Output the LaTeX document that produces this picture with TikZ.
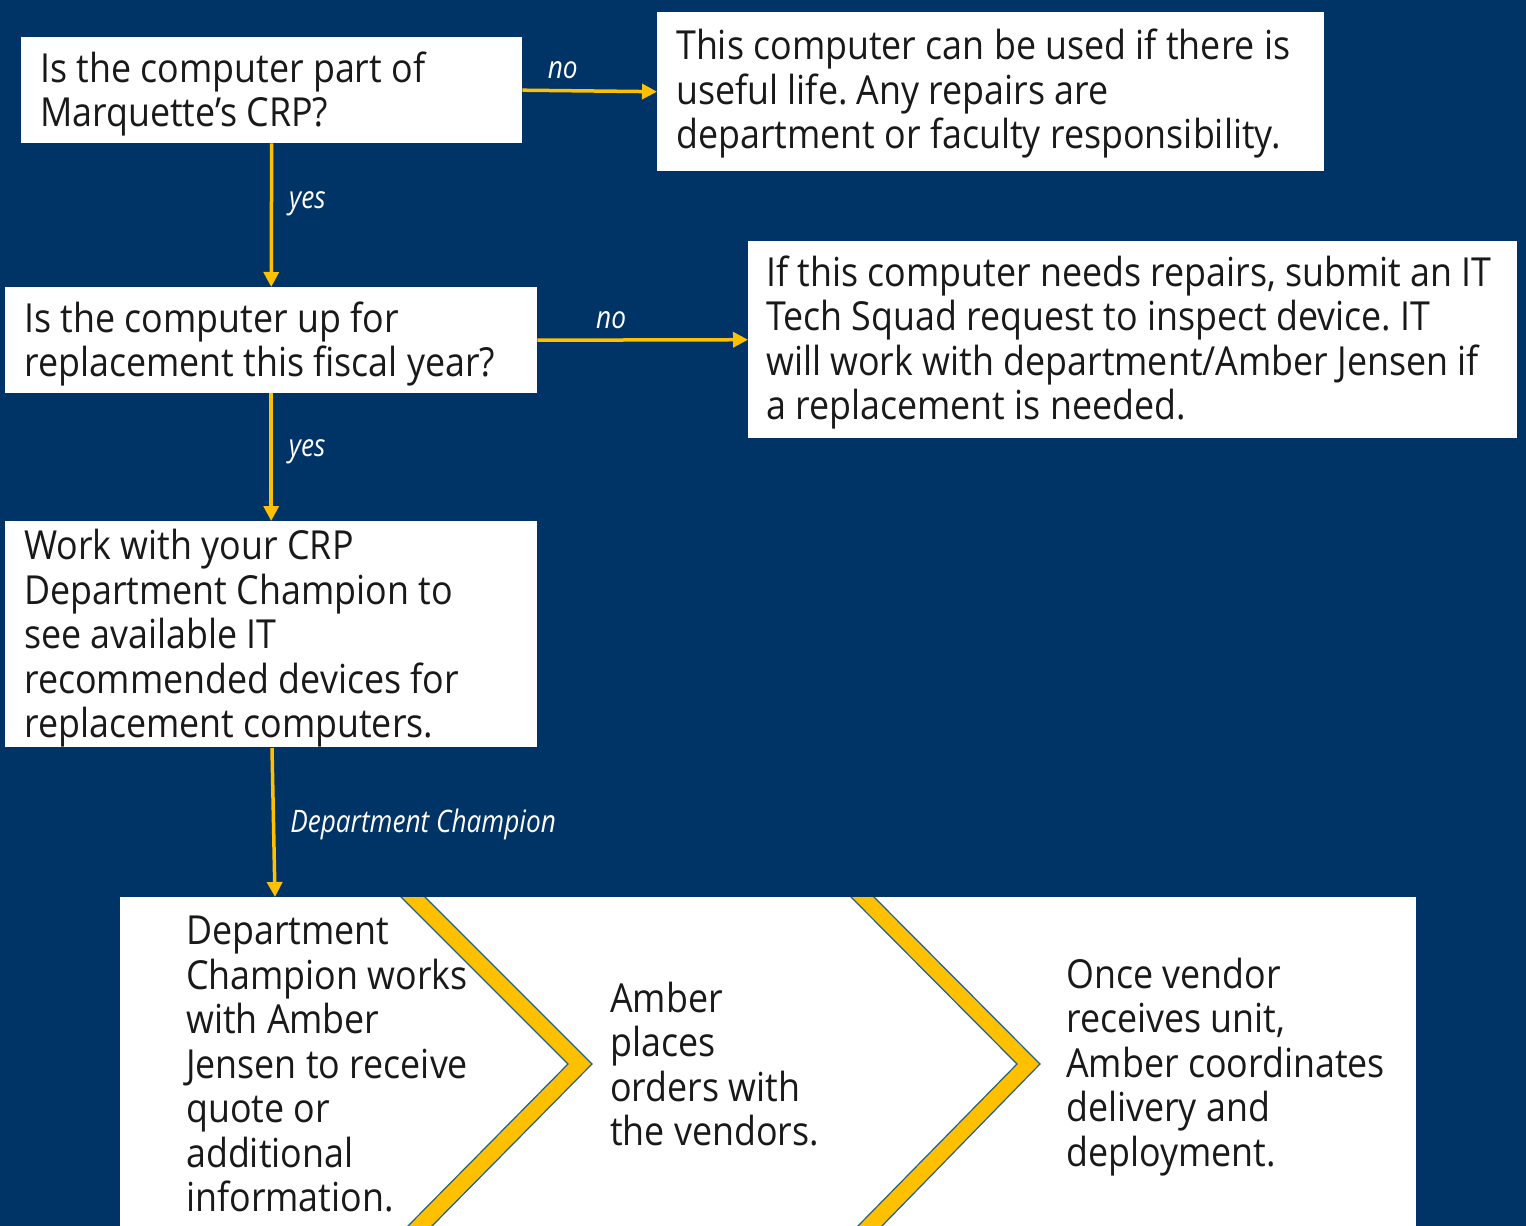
\documentclass[tikz,border=0pt]{standalone}
\usepackage{fontspec}
\setmainfont{Open Sans}[FakeStretch=0.895]
\newfontfamily\lblfont{Open Sans}[FakeStretch=0.845]
\usetikzlibrary{arrows.meta}
\definecolor{bgblue}{HTML}{003366}
\definecolor{gold}{HTML}{FFC000}
\definecolor{edgeblue}{HTML}{1F5F8C}
\tikzset{
  box/.style={fill=white, draw=none, anchor=north west, inner sep=0pt},
  plain/.style={anchor=west, inner sep=0pt, align=left, font=\fontsize{40}{44.5}\selectfont, text=black!90},
  arr/.style={draw=gold, line width=3.5pt, -{Triangle[length=15pt,width=15pt]}},
  lbl/.style={text=white, inner sep=0pt, font=\lblfont\fontsize{31}{36}\selectfont\itshape},
}
\frenchspacing
\begin{document}
\begin{tikzpicture}[x=1pt,y=-1pt]
\useasboundingbox (0,0) rectangle (1526,1226);
\fill[bgblue] (0,0) rectangle (1526,1226);
% boxes
\node[box, minimum width=501pt, minimum height=106pt] (b1) at (21,37) {};
\node[box, minimum width=667pt, minimum height=159pt] (b2) at (657,12) {};
\node[box, minimum width=532pt, minimum height=106pt] (b3) at (5,287) {};
\node[box, minimum width=769pt, minimum height=197pt] (b4) at (748,241) {};
\node[box, minimum width=532pt, minimum height=226pt] (b5) at (5,521) {};
\node[plain] (b1t) at ([xshift=19pt,yshift=-4pt]b1.west) {Is the computer part of\\Marquette’s CRP?};
\node[plain] (b2t) at ([xshift=19pt,yshift=-2pt]b2.west) {This computer can be used if there is\\useful life. Any repairs are\\department or faculty responsibility.};
\node[plain] (b3t) at ([xshift=19pt,yshift=-4pt]b3.west) {Is the computer up for\\replacement this fiscal year?};
\node[plain] (b4t) at ([xshift=18pt,yshift=-3pt]b4.west) {If this computer needs repairs, submit an IT\\Tech Squad request to inspect device. IT\\will work with department/Amber Jensen if\\a replacement is needed.};
\node[plain] (b5t) at ([xshift=19pt,yshift=-4pt]b5.west) {Work with your CRP\\Department Champion to\\see available IT\\recommended devices for\\replacement computers.};
% bottom process panel
\node[box, minimum width=1296pt, minimum height=329pt] (big) at (120,897) {};
\begin{scope}
\clip (120,897) rectangle (1416,1226);
\filldraw[fill=gold, draw=edgeblue, line width=1.2pt] (399,895)--(423,895)--(592,1064)--(430,1228)--(406,1228)--(568,1064)--cycle;
\filldraw[fill=gold, draw=edgeblue, line width=1.2pt] (849,895)--(872,895)--(1040,1064)--(880,1228)--(856,1228)--(1017,1064)--cycle;
\end{scope}
\node[plain] (t1) at (186,1064) {Department\\Champion works\\with Amber\\Jensen to receive\\quote or\\additional\\information.};
\node[plain] (t2) at (610,1064) {Amber\\places\\orders with\\the vendors.};
\node[plain] (t3) at (1066,1067) {Once vendor\\receives unit,\\Amber coordinates\\delivery and\\deployment.};
% connectors
\coordinate (c5a) at (272,748);
\coordinate (c5b) at (275,897);
\draw[arr] (b1.east) -- (b2.west) node[lbl, pos=0.3, above=10pt] {no};
\draw[arr] (b1.south) -- (b3.north) node[lbl, pos=0.42, right=16pt] {yes};
\draw[arr] (b3.east) -- (b4.west) node[lbl, pos=0.35, above=10pt] {no};
\draw[arr] (b3.south) -- (b5.north) node[lbl, pos=0.46, right=16pt] {yes};
\draw[arr] (c5a) -- (c5b) node[lbl, midway, anchor=west, xshift=15pt, yshift=-2pt] {Department Champion};
\end{tikzpicture}
\end{document}
